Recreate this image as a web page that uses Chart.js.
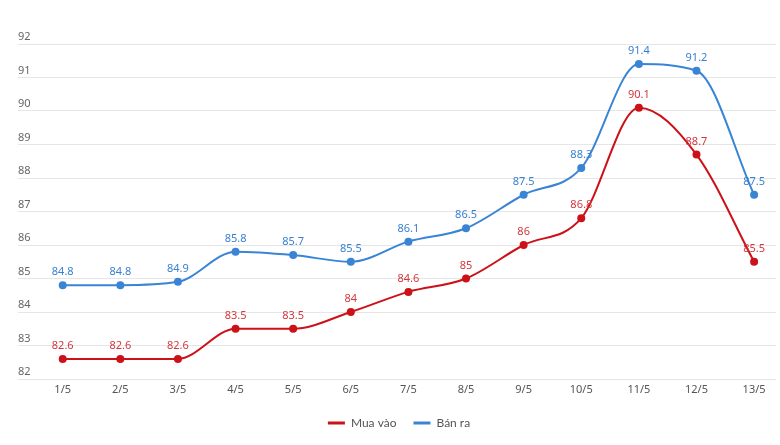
<!DOCTYPE html>
<html>
<head>
<meta charset="utf-8">
<script src="https://cdn.jsdelivr.net/npm/chart.js@4"></script>
<style>
    html, body { margin: 0; padding: 0; background: #ffffff; }
    #wrap { width: 780px; height: 445px; position: relative; }
</style>
</head>
<body>
<div id="wrap"><canvas id="priceChart"></canvas></div>
<script>
const days = ['1/5', '2/5', '3/5', '4/5', '5/5', '6/5', '7/5', '8/5', '9/5', '10/5', '11/5', '12/5', '13/5'];
const buyPrices = [82.6, 82.6, 82.6, 83.5, 83.5, 84, 84.6, 85, 86, 86.8, 90.1, 88.7, 85.5];
const sellPrices = [84.8, 84.8, 84.9, 85.8, 85.7, 85.5, 86.1, 86.5, 87.5, 88.3, 91.4, 91.2, 87.5];

const colors = {
    buy: '#cc1119',
    buyLabel: '#d2383e',
    sell: '#3a84d6',
    sellLabel: '#3a80d0'
};

// draws the value above each point
const valueLabels = {
    id: 'valueLabels',
    afterDatasetsDraw(chart) {
        const { ctx } = chart;
        chart.data.datasets.forEach((ds, di) => {
            const meta = chart.getDatasetMeta(di);
            if (meta.hidden) return;
            ctx.save();
            ctx.font = '11px "Noto Sans"';
            ctx.fillStyle = ds.labelColor;
            ctx.textAlign = 'center';
            ctx.textBaseline = 'middle';
            meta.data.forEach((pt, i) => {
                ctx.fillText(String(ds.data[i].y), pt.x, pt.y - 13);
            });
            ctx.restore();
        });
    }
};

function makeSeries(label, values, color, labelColor) {
    return {
        label,
        data: values.map((v, i) => ({ x: i, y: v })),
        borderColor: color,
        backgroundColor: color,
        pointBackgroundColor: color,
        pointBorderWidth: 0,
        pointRadius: 4,
        borderWidth: 2,
        cubicInterpolationMode: 'monotone',
        labelColor
    };
}

const ctx = document.getElementById('priceChart').getContext('2d');
new Chart(ctx, {
    type: 'line',
    data: {
        datasets: [
            makeSeries('Mua vào', buyPrices, colors.buy, colors.buyLabel),
            makeSeries('Bán ra', sellPrices, colors.sell, colors.sellLabel)
        ]
    },
    options: {
        responsive: true,
        maintainAspectRatio: false,
        animation: false,
        layout: { padding: { left: 18, right: 0, top: 44, bottom: 6 } },
        plugins: {
            tooltip: { enabled: false },
            legend: {
                position: 'bottom',
                labels: {
                    boxWidth: 17,
                    boxHeight: 3,
                    padding: 17,
                    color: '#555555',
                    font: { family: 'Lato', size: 12 },
                    generateLabels: (chart) => {
                        const items = Chart.defaults.plugins.legend.labels.generateLabels(chart);
                        items.forEach(it => { it.lineWidth = 0; });
                        return items;
                    }
                }
            }
        },
        scales: {
            x: {
                type: 'linear',
                min: -0.776,
                max: 12.38,
                grid: { display: false, drawTicks: false },
                border: { display: false },
                afterFit: (scale) => { scale.height = 21; },
                ticks: {
                    stepSize: 1,
                    includeBounds: false,
                    autoSkip: false,
                    maxRotation: 0,
                    padding: 4,
                    color: '#555555',
                    font: { family: 'Noto Sans', size: 11 },
                    callback: (v) => Number.isInteger(v) ? days[v] : ''
                }
            },
            y: {
                min: 82,
                max: 92,
                border: { display: false },
                grid: { color: '#e6e6e6', drawTicks: false },
                ticks: {
                    stepSize: 1,
                    mirror: true,
                    padding: 0,
                    labelOffset: -7,
                    color: '#666666',
                    font: { family: 'Noto Sans', size: 11 }
                }
            }
        }
    },
    plugins: [valueLabels]
});
</script>
</body>
</html>
